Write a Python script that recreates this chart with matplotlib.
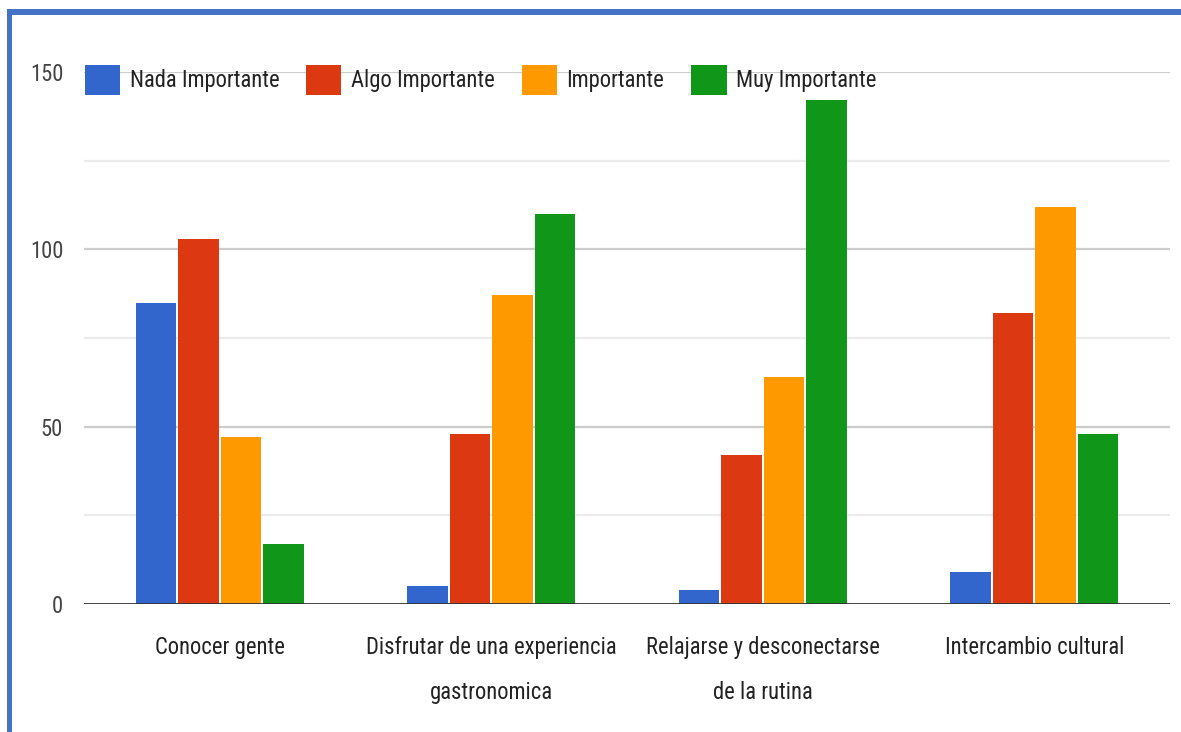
import matplotlib
matplotlib.use("Agg")
import matplotlib.pyplot as plt
from matplotlib.patches import Rectangle
from matplotlib import font_manager
import numpy as np

# --- data ---
categories = [
    "Conocer gente",
    "Disfrutar de una experiencia\ngastronomica",
    "Relajarse y desconectarse\nde la rutina",
    "Intercambio cultural",
]
series_names = ["Nada Importante", "Algo Importante", "Importante", "Muy Importante"]
nada = [85, 5, 4, 9]
algo = [103, 48, 42, 82]
importante = [47, 87, 64, 112]
muy = [17, 110, 142, 48]
y_ticks = [0, 50, 100, 150]

series_values = [nada, algo, importante, muy]
colors = ["#3366cc", "#dc3912", "#ff9900", "#109618"]

# --- fonts: use a condensed sans when one is installed ---
fonts = font_manager.fontManager.ttflist
narrow_files = [f for f in fonts
                if any(k in (f.name + " " + f.fname).lower() for k in ("narrow", "condensed"))
                and "bold" not in f.fname.lower() and "italic" not in f.fname.lower()
                and "oblique" not in f.fname.lower()]
pref = ["Liberation Sans Narrow", "Roboto Condensed", "DejaVu Sans Condensed",
        "Open Sans Condensed", "Noto Sans Condensed"]
narrow_prop = None
for p in pref:
    hits = [f for f in narrow_files if f.name == p]
    if hits:
        narrow_prop = font_manager.FontProperties(fname=hits[0].fname)
        break
if narrow_prop is None:
    hits = [f for f in narrow_files if "dejavu" in f.fname.lower() or "roboto" in f.fname.lower()
            or "liberation" in f.fname.lower() or "noto" in f.fname.lower()]
    if hits:
        narrow_prop = font_manager.FontProperties(fname=hits[0].fname)

if narrow_prop is not None:
    FS = 16.3
    plt.rcParams["font.family"] = [narrow_prop.get_name(), "DejaVu Sans"]
else:
    FS = 14
    plt.rcParams["font.family"] = ["Liberation Sans", "DejaVu Sans"]

W, H = 1181, 732
fig = plt.figure(figsize=(W / 100, H / 100), dpi=100)
fig.patch.set_facecolor("white")

ax_left, ax_right, ax_bottom, ax_top = 84, 1170, 604, 72
ax = fig.add_axes([ax_left / W, 1 - ax_bottom / H,
                   (ax_right - ax_left) / W, (ax_bottom - ax_top) / H])

x = np.arange(len(categories))
step = 0.156
width = 0.149
offsets = (np.arange(len(series_names)) - 1.5) * step
for vals, name, col, off in zip(series_values, series_names, colors, offsets):
    ax.bar(x + off, vals, width=width, color=col, label=name, zorder=3)

ax.set_xlim(-0.5, len(categories) - 0.5)
ax.set_ylim(0, 150)

# gridlines: darker at labelled values, lighter in between
for v in [25, 75, 125]:
    ax.axhline(v, color="#ebebeb", lw=1.6, zorder=1)
for v in [50, 100, 150]:
    ax.axhline(v, color="#cccccc", lw=1.6, zorder=1)
ax.axhline(0, color="#333333", lw=2.0, zorder=4)

for s in ax.spines.values():
    s.set_visible(False)

ax.set_yticks(y_ticks)
ax.set_yticklabels([str(v) for v in y_ticks])
ax.tick_params(axis="y", length=0, pad=15, labelsize=FS, labelcolor="#444444")
ax.set_xticks(x)
ax.set_xticklabels(categories)
ax.tick_params(axis="x", length=0, pad=23, labelsize=FS, labelcolor="#222222")
for lbl in ax.get_xticklabels():
    lbl.set_linespacing(2.2)

# legend across the top
handles = [Rectangle((0, 0), 1, 1, facecolor=c, edgecolor="none") for c in colors]
leg = fig.legend(handles, series_names, ncol=4, frameon=False,
                 loc="center left",
                 bbox_to_anchor=(85 / W, 1 - 80 / H),
                 fontsize=FS, handlelength=1.55, handleheight=1.6,
                 handletextpad=0.42, columnspacing=1.2,
                 borderpad=0, borderaxespad=0)
for t in leg.get_texts():
    t.set_color("#222222")

# blue frame around the chart
frame_col = "#4472c4"
fig.add_artist(Rectangle((7 / W, 0), 5 / W, 1 - 9 / H, transform=fig.transFigure,
                         facecolor=frame_col, edgecolor="none"))
fig.add_artist(Rectangle((7 / W, 1 - 15 / H), 1 - 7 / W, 6 / H,
                         transform=fig.transFigure,
                         facecolor=frame_col, edgecolor="none"))

fig.savefig("out.png", dpi=100)
